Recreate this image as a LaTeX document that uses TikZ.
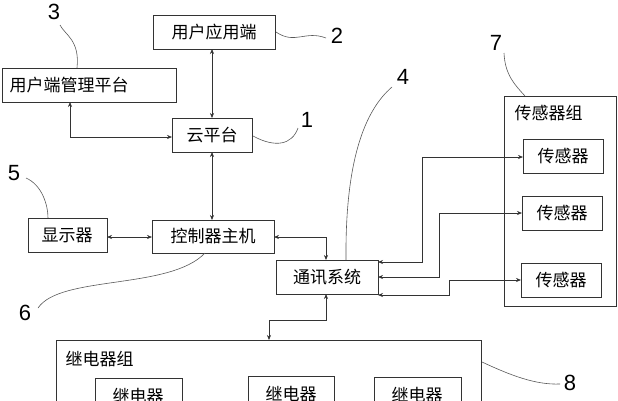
\documentclass[tikz,border=0pt]{standalone}
\usepackage{fontspec}
\setmainfont{Liberation Sans}
\newfontfamily\cjk{Noto Sans CJK SC}
\usetikzlibrary{arrows.meta}
\begin{document}
\begin{tikzpicture}[x=1pt,y=-1pt,
  box/.style={draw=black!80,line width=0.8pt},
  lbl/.style={font=\cjk\fontsize{17}{17}\selectfont,anchor=center},
  con/.style={line width=0.6pt,draw=black!80,{Stealth[length=5pt,width=4pt]}-{Stealth[length=5pt,width=4pt]}},
  lead/.style={line width=0.6pt,draw=black!65},
  num/.style={font=\fontsize{22}{22}\selectfont,inner sep=0pt}]
\useasboundingbox (0,0) rectangle (618,400);
% boxes
\draw[box] (153,15) rectangle (275,49); \node[lbl] (ua) at (214,32) {用户应用端};
\draw[box] (2,68) rectangle (176,102); \node[lbl,anchor=west] (um) at (6,85) {用户端管理平台};
\draw[box] (172,118) rectangle (252,152); \node[lbl] (cp) at (212,135) {云平台};
\draw[box] (28,218) rectangle (107,252); \node[lbl] (dp) at (67,235) {显示器};
\draw[box] (152,220) rectangle (274,253); \node[lbl] (ct) at (213,236) {控制器主机};
\draw[box] (276,260) rectangle (378,294); \node[lbl] (cs) at (327,277) {通讯系统};
\draw[box] (504,96) rectangle (616,306); \node[lbl,anchor=west] (sg) at (511,113) {传感器组};
\draw[box] (523,139) rectangle (603,173); \node[lbl] (s1) at (563,156) {传感器};
\draw[box] (522,196) rectangle (602,230); \node[lbl] (s2) at (562,213) {传感器};
\draw[box] (521,263) rectangle (601,297); \node[lbl] (s3) at (561,280) {传感器};
\draw[box] (56,340) rectangle (481,410); \node[lbl,anchor=west] (rg) at (62,359) {继电器组};
\draw[box] (95,378) rectangle (182,410); \node[lbl] (r1) at (138,396) {继电器};
\draw[box] (248,376) rectangle (334,410); \node[lbl] (r2) at (291,394) {继电器};
\draw[box] (374,377) rectangle (461,410); \node[lbl] (r3) at (417,395) {继电器};
% connectors
\coordinate (uaB) at (212,49); \coordinate (cpT) at (212,118);
\draw[con] (uaB) -- (cpT);
\coordinate (umB) at (70,102); \coordinate (cpL) at (172,137);
\draw[con] (umB) |- (cpL);
\coordinate (cpB) at (212,152); \coordinate (ctT) at (212,220);
\draw[con] (cpB) -- (ctT);
\coordinate (dpR) at (107,237); \coordinate (ctL) at (152,237);
\draw[con] (dpR) -- (ctL);
\coordinate (ctR) at (274,237); \coordinate (csT) at (326,260);
\draw[con] (ctR) -| (csT);
\coordinate (csB) at (326,294); \coordinate (rgT) at (269,340);
\draw[con] (csB) -- (326,320) -| (rgT);
\coordinate (c1) at (378,262); \coordinate (s1L) at (523,157);
\draw[con] (c1) -- (422,262) |- (s1L);
\coordinate (c2) at (378,277); \coordinate (s2L) at (522,213);
\draw[con] (c2) -- (439,277) |- (s2L);
\coordinate (c3) at (378,295); \coordinate (s3L) at (521,280);
\draw[con] (c3) -- (449,295) |- (s3L);
% leaders & numbers
\node[num] (n3) at (54,12) {3};
\draw[lead] (77,68) .. controls (80,40) and (65,35) .. (60,25);
\node[num] (n2) at (337,36) {2};
\draw[lead] (276,32) .. controls (295,45) and (305,30) .. (326,38);
\node[num] (n1) at (307,120) {1};
\draw[lead] (253,136) .. controls (275,148) and (292,145) .. (298,128);
\node[num] (n4) at (403,77) {4};
\draw[lead] (346,260) .. controls (345,160) and (365,110) .. (392,87);
\node[num] (n5) at (14,173) {5};
\draw[lead] (26,178) .. controls (42,185) and (48,205) .. (48,218);
\node[num] (n6) at (25,313) {6};
\draw[lead] (205,253) .. controls (170,290) and (60,275) .. (38,308);
\node[num] (n7) at (496,43) {7};
\draw[lead] (504,53) .. controls (505,75) and (515,85) .. (525,96);
\node[num] (n8) at (570,383) {8};
\draw[lead] (482,362) .. controls (510,375) and (535,385) .. (560,384);
\end{tikzpicture}
\end{document}
